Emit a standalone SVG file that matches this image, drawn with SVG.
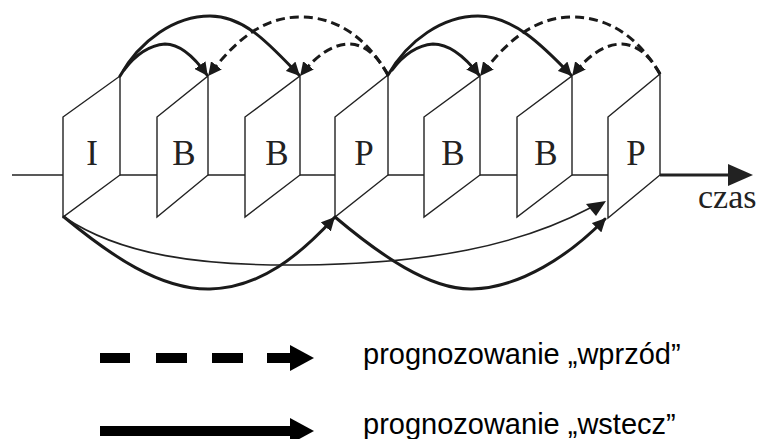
<svg xmlns="http://www.w3.org/2000/svg" width="761" height="439" viewBox="0 0 761 439">
<defs>
<style>
.frame{fill:none;stroke:#222;stroke-width:1.4;stroke-linejoin:miter}
.lbl{font-family:"Liberation Serif","DejaVu Serif",serif;font-size:35px;fill:#222;text-anchor:middle}
.arc{fill:none;stroke:#1a1a1a;stroke-width:3;stroke-linecap:round}
.dash{stroke-dasharray:9 5;stroke-linecap:butt}
.thin{fill:none;stroke:#222;stroke-width:1.6}
.leg{font-family:"Liberation Sans",Arial,sans-serif;font-size:29px;fill:#000}
</style>
<marker id="ah" viewBox="0 0 10 10" refX="9" refY="5" markerWidth="4.5" markerHeight="4.5" orient="auto" markerUnits="strokeWidth">
<path d="M0,0 L10,5 L0,10 Z" fill="#1a1a1a"/>
</marker>
</defs>
<rect width="761" height="439" fill="#fff"/>

<g id="timeline">
<line x1="12" y1="175" x2="63" y2="175" class="frame"/>
<line x1="120" y1="175" x2="157" y2="175" class="frame"/>
<line x1="208" y1="175" x2="245" y2="175" class="frame"/>
<line x1="300" y1="175" x2="335" y2="175" class="frame"/>
<line x1="388" y1="175" x2="424" y2="175" class="frame"/>
<line x1="480" y1="175" x2="517" y2="175" class="frame"/>
<line x1="572" y1="175" x2="608" y2="175" class="frame"/>
<line x1="660" y1="175" x2="730" y2="175" stroke="#222" stroke-width="3"/>
<polygon points="728,164 753,175 728,186" fill="#222"/>
<text x="698" y="208" font-family="Liberation Serif,serif" font-size="34" fill="#222">czas</text>
</g>

<g id="frame-I">
<polygon class="frame" points="63,117 120,76 120,175 63,217"/>
<text class="lbl" x="92" y="165">I</text>
</g>
<g id="frame-B1">
<polygon class="frame" points="157,117 208,76 208,175 157,217"/>
<text class="lbl" x="184" y="165">B</text>
</g>
<g id="frame-B2">
<polygon class="frame" points="245,117 300,76 300,175 245,217"/>
<text class="lbl" x="277" y="165">B</text>
</g>
<g id="frame-P1">
<polygon class="frame" points="335,117 388,75 388,175 335,217"/>
<text class="lbl" x="364" y="165">P</text>
</g>
<g id="frame-B3">
<polygon class="frame" points="424,117 480,76 480,175 424,217"/>
<text class="lbl" x="453" y="165">B</text>
</g>
<g id="frame-B4">
<polygon class="frame" points="517,117 572,76 572,175 517,217"/>
<text class="lbl" x="546" y="165">B</text>
</g>
<g id="frame-P2">
<polygon class="frame" points="608,117 660,74 660,175 608,218"/>
<text class="lbl" x="636" y="165">P</text>
</g>

<g id="connectors">
<path class="arc" d="M120,76 C140,40 175,16 210,16 C245,16 270,45 299,75" marker-end="url(#ah)"/>
<path class="arc" d="M124,70 Q142,46 165,44 Q185,44 207,75" marker-end="url(#ah)"/>
<path class="arc dash" d="M388,75 C365,35 335,17 300,17 C260,17 232,45 209,75" marker-end="url(#ah)"/>
<path class="arc dash" d="M388,75 Q372,45 350,44 Q325,44 301,75" marker-end="url(#ah)"/>

<path class="arc" d="M388,75 C408,40 443,16 478,16 C513,16 542,45 571,75" marker-end="url(#ah)"/>
<path class="arc" d="M392,70 Q410,46 433,44 Q455,44 479,75" marker-end="url(#ah)"/>
<path class="arc dash" d="M660,74 C637,35 607,17 572,17 C532,17 504,45 481,75" marker-end="url(#ah)"/>
<path class="arc dash" d="M660,74 Q644,45 622,44 Q597,44 573,75" marker-end="url(#ah)"/>

<path class="arc" d="M64,217 C110,255 160,290 210,289 C260,288 300,255 334,218" marker-end="url(#ah)"/>
<path class="arc" d="M335,217 C380,255 430,290 472,289 C520,288 570,255 605,219" marker-end="url(#ah)"/>
<path class="thin" d="M64,217 C120,255 200,266 300,265 C430,264 520,245 590,208"/>
<polygon points="586,204 606,201 596,216" fill="#1a1a1a"/>
</g>

<g id="legend">
<g fill="#000">
<rect x="100" y="353" width="30" height="10"/>
<rect x="156" y="353" width="31" height="10"/>
<rect x="212" y="353" width="31" height="10"/>
<rect x="267" y="353" width="24" height="10"/>
<polygon points="290,345 314,358 290,371"/>
<rect x="100" y="426" width="191" height="10"/>
<polygon points="290,418 314,431 290,444"/>
</g>
<text class="leg" x="363" y="364">prognozowanie „wprzód”</text>
<text class="leg" x="363" y="434">prognozowanie „wstecz”</text>
</g>
</svg>
